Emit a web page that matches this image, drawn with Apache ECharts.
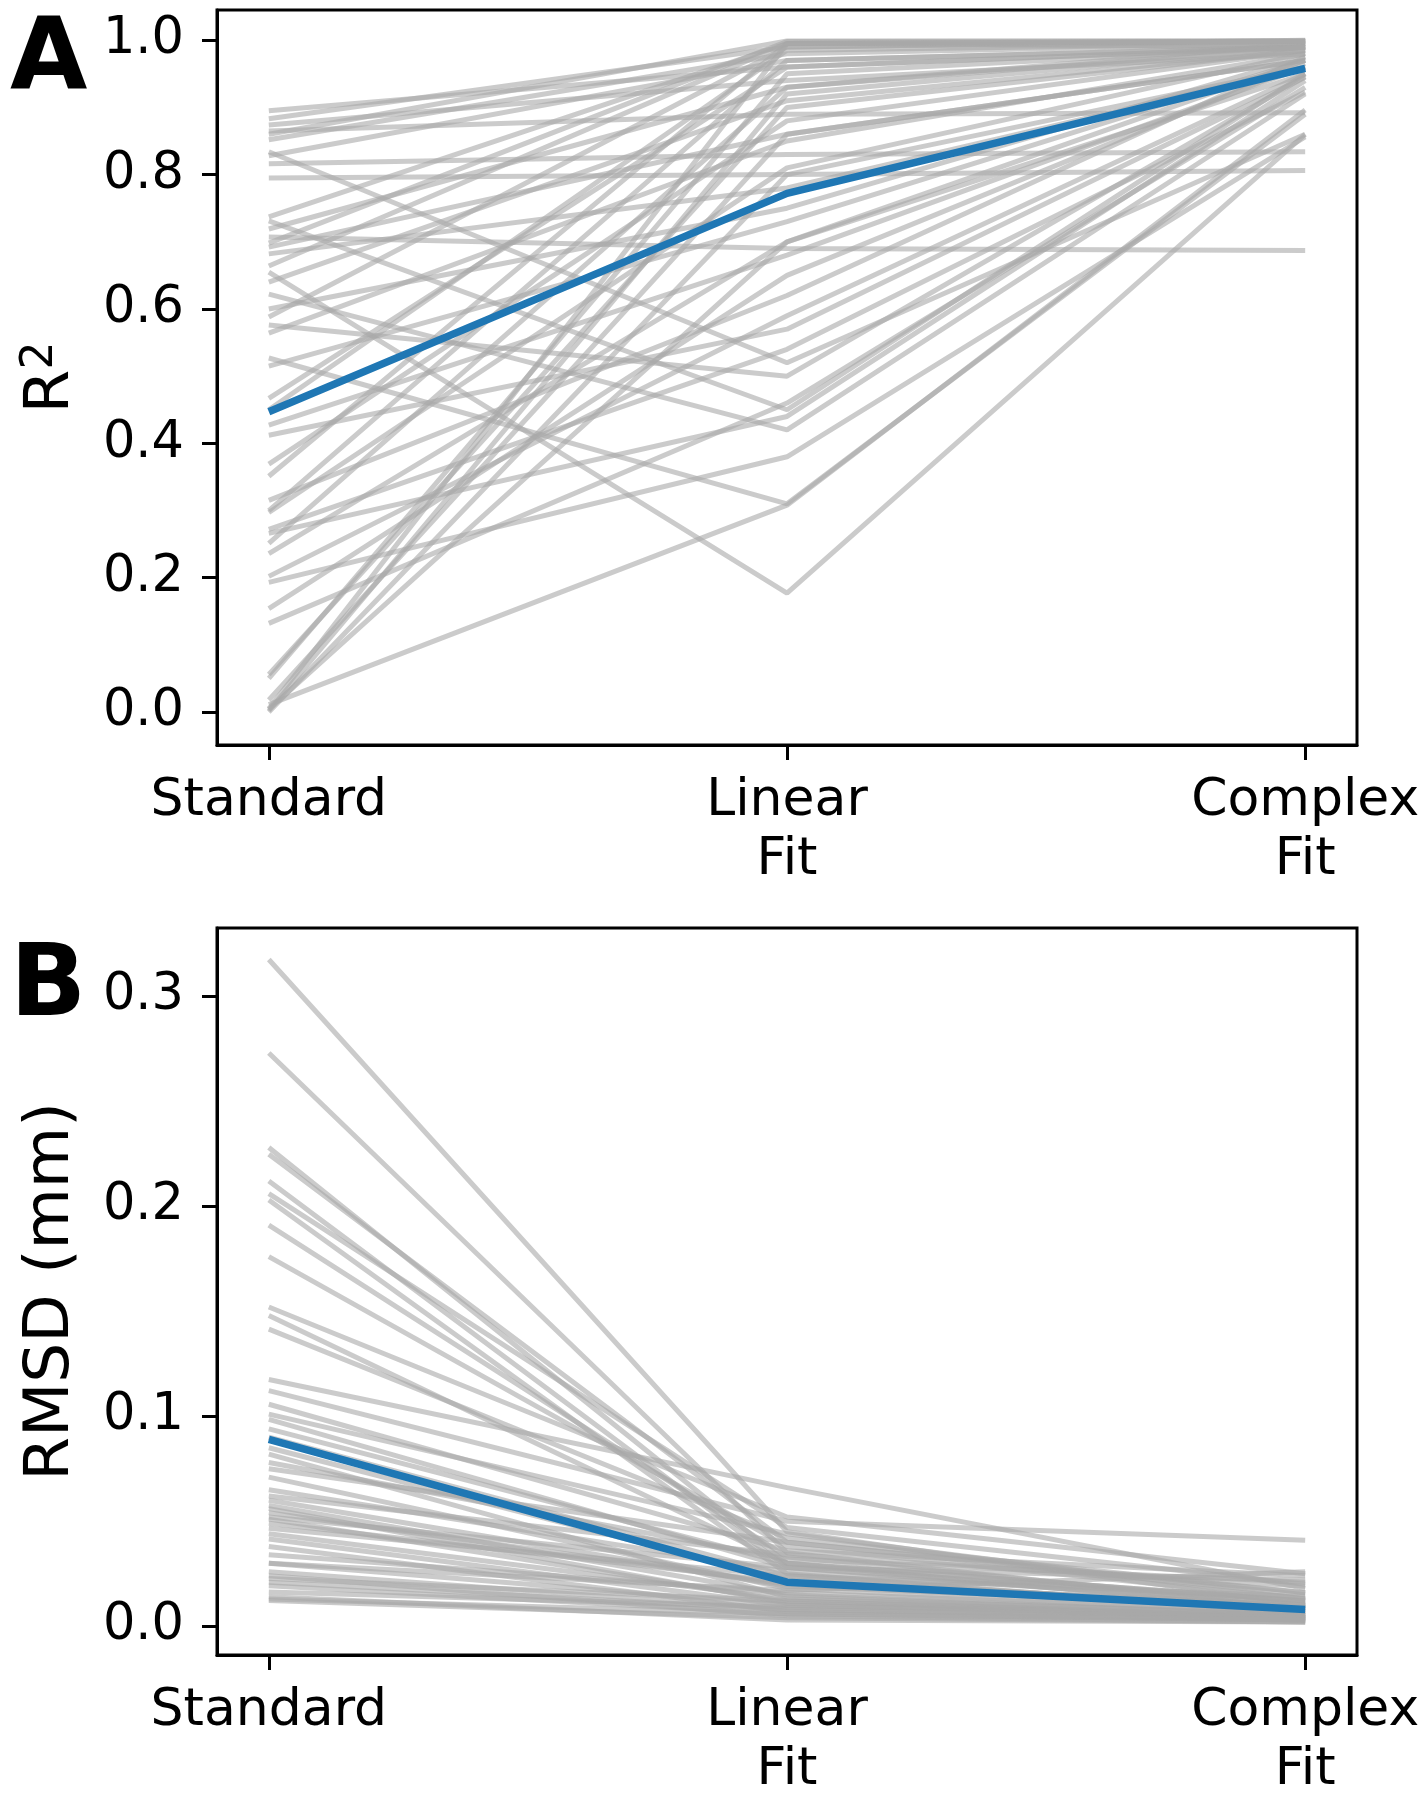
<!DOCTYPE html>
<html>
<head>
<meta charset="utf-8">
<title>R2 / RMSD per fit</title>
<style>
  html, body { margin: 0; padding: 0; background: #fff; }
  #chart { width: 1426px; height: 1800px; }
</style>
</head>
<body>
<div id="chart"></div>
<script src="https://cdn.jsdelivr.net/npm/echarts@6/dist/echarts.min.js"></script>
<script>
// categories on the x axis (positions 0, 1, 2)
var categories = ['Standard', 'Linear\nFit', 'Complex\nFit'];
var catPos = [0, 1, 2];

// panel A: R^2 per subject
var r2Standard = [0.895, 0.883, 0.874, 0.865, 0.86, 0.852, 0.834, 0.828, 0.816, 0.795,
  0.737, 0.731, 0.719, 0.707, 0.698, 0.692, 0.682, 0.664, 0.655, 0.640,
  0.622, 0.600, 0.588, 0.576, 0.564, 0.527, 0.515, 0.467, 0.45, 0.427,
  0.412, 0.369, 0.351, 0.315, 0.30, 0.297, 0.272, 0.266, 0.251, 0.236,
  0.202, 0.193, 0.154, 0.132, 0.056, 0.050, 0.018, 0.011, 0.002, 0.0,
  0.005, 0.004];
var r2Linear = [0.96, 0.99, 0.94, 0.89, 0.999, 0.98, 0.52, 0.97, 0.83, 0.80,
  0.995, 0.45, 0.93, 0.69, 0.998, 0.86, 0.78, 0.995, 0.177, 0.91,
  0.42, 0.75, 0.99, 0.50, 0.85, 0.31, 0.73, 0.96, 0.985, 0.68,
  0.57, 0.88, 0.995, 0.62, 0.97, 0.81, 0.54, 0.44, 0.93, 0.70,
  0.59, 0.38, 0.65, 0.46, 0.90, 0.95, 0.86, 0.308, 0.92, 0.80,
  0.995, 0.70];
var r2Complex = [0.99, 1.0, 0.98, 0.892, 0.999, 0.995, 0.86, 0.99, 0.834, 0.806,
  0.998, 0.95, 0.99, 0.687, 0.999, 0.97, 0.96, 0.99, 0.86, 0.985,
  0.92, 0.975, 0.998, 0.946, 0.98, 0.89, 0.97, 0.99, 0.995, 0.96,
  0.945, 0.985, 0.998, 0.975, 0.99, 0.98, 0.923, 0.94, 0.995, 0.97,
  0.95, 0.856, 0.965, 0.93, 0.985, 0.99, 0.97, 0.896, 0.99, 0.96,
  0.999, 0.95];
var r2Mean = [0.447, 0.772, 0.958];
var r2Ticks = [0, 0.2, 0.4, 0.6, 0.8, 1.0];

// panel B: RMSD (mm) per subject
var rmsdStandard = [0.3175, 0.273, 0.228, 0.2248, 0.212, 0.206, 0.203, 0.191, 0.176, 0.152,
  0.148, 0.1415, 0.1175, 0.1122, 0.1057, 0.0985, 0.085, 0.078, 0.071, 0.065,
  0.0575, 0.054, 0.051, 0.0467, 0.0415, 0.034, 0.026, 0.0227, 0.0193, 0.0163,
  0.0122, 0.094, 0.082, 0.060, 0.056, 0.049, 0.044, 0.038, 0.030, 0.024,
  0.021, 0.014, 0.013, 0.062, 0.075, 0.090, 0.101, 0.030, 0.052];
var rmsdLinear = [0.045, 0.035, 0.030, 0.040, 0.028, 0.047, 0.025, 0.033, 0.038, 0.052,
  0.030, 0.042, 0.066, 0.050, 0.036, 0.028, 0.022, 0.032, 0.018, 0.026,
  0.015, 0.020, 0.012, 0.024, 0.010, 0.016, 0.008, 0.012, 0.006, 0.009,
  0.004, 0.030, 0.014, 0.019, 0.011, 0.021, 0.013, 0.007, 0.010, 0.005,
  0.008, 0.003, 0.006, 0.034, 0.040, 0.024, 0.044, 0.017, 0.028];
var rmsdComplex = [0.010, 0.008, 0.012, 0.015, 0.009, 0.020, 0.006, 0.010, 0.013, 0.025,
  0.007, 0.016, 0.018, 0.041, 0.024, 0.012, 0.009, 0.021, 0.006, 0.011,
  0.005, 0.008, 0.004, 0.014, 0.004, 0.007, 0.003, 0.005, 0.003, 0.004,
  0.002, 0.012, 0.005, 0.009, 0.004, 0.010, 0.006, 0.003, 0.005, 0.002,
  0.004, 0.002, 0.003, 0.019, 0.016, 0.007, 0.013, 0.026, 0.022];
var rmsdMean = [0.089, 0.021, 0.008];
var rmsdTicks = [0, 0.1, 0.2, 0.3];

var chart = echarts.init(document.getElementById('chart'));
var font = 'DejaVu Sans';

function toPoints(vals) {
    return catPos.map(function (x, i) { return [x, vals[i]]; });
}

var series = [];
function addPanel(s, l, c, mean, idx) {
    for (var i = 0; i < s.length; i++) {
        series.push({
            type: 'line', xAxisIndex: idx, yAxisIndex: idx,
            data: toPoints([s[i], l[i], c[i]]),
            symbol: 'none', silent: true,
            lineStyle: { color: '#a9a9a9', opacity: 0.6, width: 5 }
        });
    }
    series.push({
        type: 'line', xAxisIndex: idx, yAxisIndex: idx,
        data: toPoints(mean), symbol: 'none', silent: true, z: 5,
        lineStyle: { color: '#1f77b4', width: 7.5 }
    });
}
addPanel(r2Standard, r2Linear, r2Complex, r2Mean, 0);
addPanel(rmsdStandard, rmsdLinear, rmsdComplex, rmsdMean, 1);

function xAxis(idx) {
    return {
        type: 'value', gridIndex: idx, min: -0.1, max: 2.1,
        splitLine: { show: false },
        axisLine: { show: true, onZero: false, lineStyle: { color: '#000', width: 3 } },
        axisTick: { show: true, customValues: catPos, length: 15, lineStyle: { color: '#000', width: 3 } },
        axisLabel: {
            customValues: catPos, margin: 27,
            color: '#000', fontFamily: font, fontSize: 52, lineHeight: 59,
            formatter: function (v) { return categories[Math.round(v)]; }
        }
    };
}
function yAxis(idx, min, max, ticks, name, gap) {
    return {
        type: 'value', gridIndex: idx, min: min, max: max,
        splitLine: { show: false },
        name: name, nameLocation: 'middle', nameRotate: 90, nameGap: gap,
        nameTextStyle: {
            color: '#000', fontFamily: font, fontSize: 63,
            rich: {
                r: { fontFamily: font, fontSize: 63, color: '#000' },
                s: { fontFamily: font, fontSize: 44, color: '#000', verticalAlign: 'top', padding: [0, 0, 22, 0] }
            }
        },
        axisLine: { show: true, onZero: false, lineStyle: { color: '#000', width: 3 } },
        axisTick: { show: true, customValues: ticks, length: 15, lineStyle: { color: '#000', width: 3 } },
        axisLabel: {
            customValues: ticks, margin: 33,
            color: '#000', fontFamily: font, fontSize: 51,
            formatter: function (v) { return v.toFixed(1); }
        }
    };
}

var option = {
    animation: false,
    backgroundColor: '#fff',
    title: [
        { text: 'A', left: 10, top: 12, padding: 0,
          textStyle: { fontFamily: font, fontSize: 100, fontWeight: 'bold', color: '#000', lineHeight: 100 } },
        { text: 'B', left: 10, top: 939, padding: 0,
          textStyle: { fontFamily: font, fontSize: 100, fontWeight: 'bold', color: '#000', lineHeight: 100 } }
    ],
    grid: [
        { left: 217, top: 10, width: 1140, height: 735, show: true, borderColor: '#000', borderWidth: 3 },
        { left: 217, top: 928, width: 1140, height: 734, show: true, borderColor: '#000', borderWidth: 3 }
    ],
    xAxis: [xAxis(0), xAxis(1)],
    yAxis: [
        yAxis(0, -0.049, 1.045, r2Ticks, '{r|R}{s|2}', 132),
        yAxis(1, -0.0137, 0.3325, rmsdTicks, 'RMSD (mm)', 134)
    ],
    series: series
};
chart.setOption(option);
window.addEventListener('resize', function () { chart.resize(); });
</script>
</body>
</html>
